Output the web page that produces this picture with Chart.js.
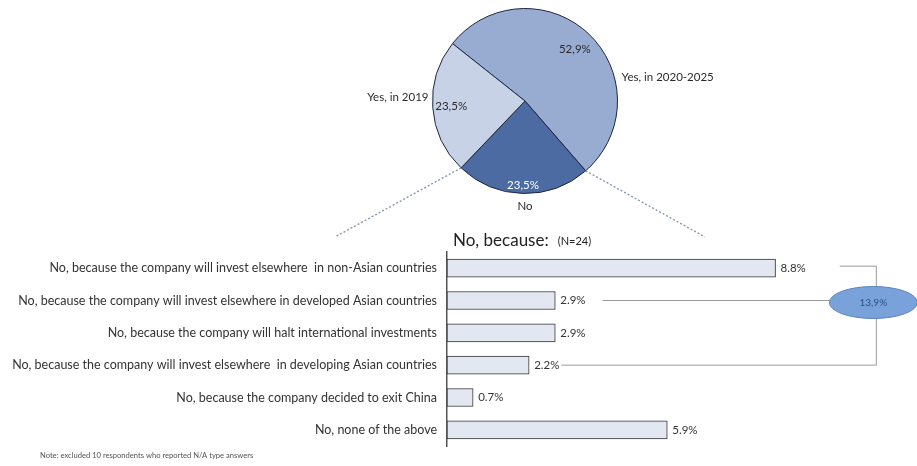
<!DOCTYPE html>
<html>
<head>
<meta charset="utf-8">
<script src="https://cdn.jsdelivr.net/npm/chart.js@4"></script>
<style>
html, body { margin: 0; padding: 0; background: #fff; }
#wrap { position: relative; width: 917px; height: 466px; }
#wrap canvas { position: absolute; left: 0; top: 0; }
</style>
</head>
<body>
<div id="wrap">
  <canvas id="barChart" width="917" height="466"></canvas>
  <canvas id="pieChart" width="917" height="466"></canvas>
</div>
<script>
// pie data
const pieLabels = ['Yes, in 2020-2025', 'No', 'Yes, in 2019'];
const pieValues = [52.9, 23.5, 23.5];
const pieText = ['52,9%', '23,5%', '23,5%'];

// bar data
const reasonLabels = [
    'No, because the company will invest elsewhere  in non-Asian countries',
    'No, because the company will invest elsewhere in developed Asian countries',
    'No, because the company will halt international investments',
    'No, because the company will invest elsewhere  in developing Asian countries',
    'No, because the company decided to exit China',
    'No, none of the above'
];
const reasonValues = [8.8, 2.9, 2.9, 2.2, 0.7, 5.9];
const groupedTotal = '13,9%';

const FONT = 'Lato, "Open Sans", sans-serif';

// ---------- pie ----------
const pieExtras = {
    id: 'pieExtras',
    afterDraw(chart) {
        const ctx = chart.ctx;
        const arcs = chart.getDatasetMeta(0).data;
        const cx = arcs[0].x, cy = arcs[0].y, r = arcs[0].outerRadius;
        ctx.save();

        // dashed lines from the "No" slice down to the bar chart
        const no = arcs[1];
        ctx.strokeStyle = '#8a97b0';
        ctx.lineWidth = 1.4;
        ctx.setLineDash([2, 2]);
        ctx.beginPath();
        ctx.moveTo(cx + r * Math.cos(no.startAngle), cy + r * Math.sin(no.startAngle));
        ctx.lineTo(705, 237);
        ctx.moveTo(cx + r * Math.cos(no.endAngle), cy + r * Math.sin(no.endAngle));
        ctx.lineTo(335, 237);
        ctx.stroke();
        ctx.setLineDash([]);

        // percentage labels inside slices
        const radii = [0.78, 0.91, 0.8];
        const colors = ['#2b2b2b', '#ffffff', '#2b2b2b'];
        ctx.font = '11.5px ' + FONT;
        ctx.textAlign = 'center';
        ctx.textBaseline = 'middle';
        arcs.forEach((a, i) => {
            const mid = (a.startAngle + a.endAngle) / 2;
            ctx.fillStyle = colors[i];
            ctx.fillText(pieText[i], cx + r * radii[i] * Math.cos(mid), cy + r * radii[i] * Math.sin(mid));
        });

        // category names outside
        ctx.fillStyle = '#2b2b2b';
        ctx.textAlign = 'left';
        ctx.fillText(pieLabels[0], cx + r + 4, cy - 24);
        ctx.textAlign = 'right';
        ctx.fillText(pieLabels[2], cx - r - 4, cy - 4);
        ctx.textAlign = 'center';
        ctx.fillText(pieLabels[1], cx, cy + r + 13);
        ctx.restore();
    }
};

new Chart(document.getElementById('pieChart'), {
    type: 'pie',
    data: {
        labels: pieLabels,
        datasets: [{
            data: pieValues,
            backgroundColor: ['#98abd0', '#4b6ba2', '#c8d2e7'],
            borderColor: '#1e2740',
            borderWidth: 1
        }]
    },
    options: {
        responsive: false,
        animation: false,
        rotation: -51.6,
        layout: { padding: { left: 432, top: 8, right: 299, bottom: 272 } },
        plugins: {
            legend: { display: false },
            tooltip: { enabled: false }
        }
    },
    plugins: [pieExtras]
});

// ---------- bars ----------
const barExtras = {
    id: 'barExtras',
    afterDraw(chart) {
        const ctx = chart.ctx;
        const bars = chart.getDatasetMeta(0).data;
        const xs = chart.scales.x;
        const area = chart.chartArea;
        ctx.save();

        // title
        ctx.fillStyle = '#222';
        ctx.textAlign = 'left';
        ctx.textBaseline = 'alphabetic';
        ctx.font = '17px ' + FONT;
        ctx.fillText('No, because:', area.left + 6, area.top - 6);
        const tw = ctx.measureText('No, because:').width;
        ctx.font = '11px ' + FONT;
        ctx.fillText('(N=24)', area.left + 6 + tw + 9, area.top - 7);

        // value labels
        ctx.font = '11.5px ' + FONT;
        ctx.textBaseline = 'middle';
        ctx.fillStyle = '#333';
        const ends = [];
        bars.forEach((b, i) => {
            const t = reasonValues[i].toFixed(1) + '%';
            ctx.fillText(t, b.x + 5, b.y);
            ends.push(b.x + 5 + ctx.measureText(t).width);
        });

        // bracket grouping the "invest elsewhere" answers
        const bx = xs.getPixelForValue(11.5);
        ctx.strokeStyle = '#9a9a9a';
        ctx.lineWidth = 1;
        ctx.beginPath();
        ctx.moveTo(ends[0] + 34, bars[0].y - 2);
        ctx.lineTo(bx, bars[0].y - 2);
        ctx.lineTo(bx, bars[3].y);
        ctx.lineTo(ends[3] + 2, bars[3].y);
        ctx.stroke();

        const ex = xs.getPixelForValue(11.42), ey = bars[1].y + 2;
        ctx.beginPath();
        ctx.moveTo(ends[1] + 17, bars[1].y);
        ctx.lineTo(ex - 44, bars[1].y);
        ctx.stroke();

        // ellipse with total
        ctx.beginPath();
        ctx.ellipse(ex, ey, 44, 16, 0, 0, Math.PI * 2);
        ctx.fillStyle = '#7aa2da';
        ctx.fill();
        ctx.strokeStyle = '#5a82bb';
        ctx.stroke();
        ctx.fillStyle = '#2d4f86';
        ctx.textAlign = 'center';
        ctx.font = '10px ' + FONT;
        ctx.fillText(groupedTotal, ex, ey);

        // note
        ctx.textAlign = 'left';
        ctx.fillStyle = '#555';
        ctx.font = '7.6px ' + FONT;
        ctx.fillText('Note: excluded 10 respondents who reported N/A type answers', 40, 456);
        ctx.restore();
    }
};

new Chart(document.getElementById('barChart'), {
    type: 'bar',
    data: {
        labels: reasonLabels,
        datasets: [{
            data: reasonValues,
            backgroundColor: '#e3e7f1',
            borderColor: '#333',
            borderWidth: 1,
            borderSkipped: false,
            barThickness: 18
        }]
    },
    options: {
        indexAxis: 'y',
        responsive: false,
        animation: false,
        layout: { padding: { left: 0, top: 252, right: 22, bottom: 20 } },
        scales: {
            x: { display: false, min: 0, max: 12 },
            y: {
                afterFit(scale) { scale.width = 447; },
                grid: { display: false, drawTicks: false },
                border: { display: true, color: '#555', width: 1.5 },
                ticks: {
                    padding: 10,
                    color: '#333',
                    font: { family: FONT, size: 12.5 }
                }
            }
        },
        plugins: {
            legend: { display: false },
            tooltip: { enabled: false }
        }
    },
    plugins: [barExtras]
});
</script>
</body>
</html>
